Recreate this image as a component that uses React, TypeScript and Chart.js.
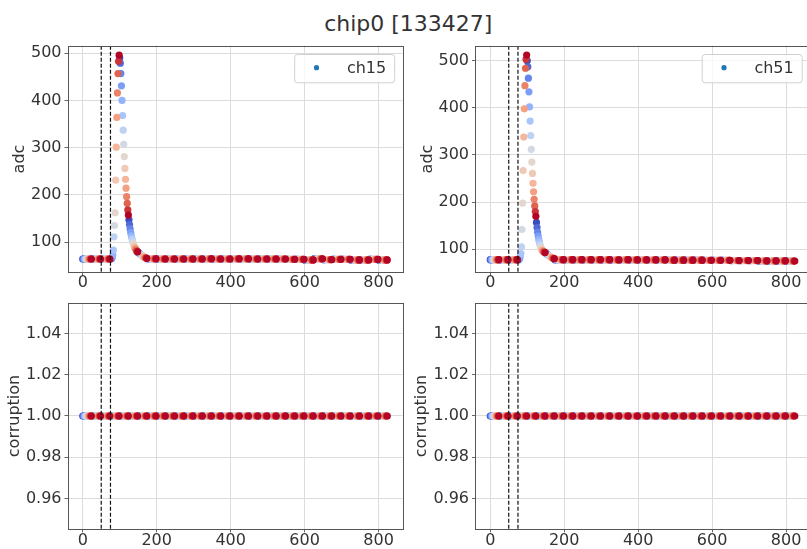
import React, { useEffect, useRef } from "react";
import { Chart, registerables } from "chart.js";

Chart.register(...registerables);

const FONT = "'DejaVu Sans', 'Liberation Sans', sans-serif";
Chart.defaults.font.family = FONT;

// ---------------- data ----------------
const TITLE = "chip0 [133427]";
const CHANNEL_LEFT = "ch15";
const CHANNEL_RIGHT = "ch51";

const BX_PERIOD = 25; // sampling period between bunch crossings
const N_PHASES = 16; // phase scan steps inside one period
const PHASE_STEP = 25 / 16;
const N_BX = 33;

// baseline adc per BX (BX 3..6 are replaced by the pulse tables)
const BASELINE_CH15 = [
  64, 64, 64, 64, 64, 64, 64, 64.5, 64, 64, 64, 64, 64, 64.5, 64, 64, 64.5,
  64.5, 64, 64, 64, 64, 63.5, 63.5, 62, 64.5, 62.5, 63.5, 63.5, 62, 62, 63, 62,
];
const BASELINE_CH51 = [
  78, 78, 78, 78, 78, 78, 78, 78, 78, 78, 78, 78, 78, 77.5, 78, 77.5, 77.5,
  77.5, 77.5, 77, 77, 77, 77, 76.5, 76.5, 76.5, 76, 76, 76, 75.5, 75.5, 75.5, 75,
];

const PULSE_BX = [3, 4, 5, 6];
// adc per phase (0..15) for the pulse BXs
const PULSE_CH15 = [
  [64, 64, 65, 67, 72, 83, 111, 135, 162, 231, 301, 364, 416, 457, 483, 496],
  [490, 479, 457, 431, 400, 368, 337, 307, 281, 256, 233, 214, 196, 182, 168, 157],
  [147, 137, 128, 120, 113, 108, 104, 99, 95, 91, 88, 86, 84, 82, 80, 79],
  [78, 77, 76, 75, 74, 73, 72, 71, 70, 69, 68, 67.5, 67, 66.5, 66, 65.5],
];
const PULSE_CH51 = [
  [78, 78, 79, 81, 86, 91, 105, 142, 198, 267, 338, 398, 447, 484, 503, 512],
  [500, 487, 463, 434, 402, 372, 341, 312, 285, 261, 240, 222, 206, 192, 180, 170],
  [157, 146, 136, 128, 121, 115, 110, 106, 102, 100, 98, 96.5, 95.5, 94.5, 93.5, 93],
  [92, 91, 90, 89, 88, 87, 86, 85, 84, 83.5, 83, 82, 81.5, 81, 80.5, 80],
];

const CORRUPTION_CH15 = [
  1, 1, 1, 1, 1, 1, 1, 1, 1, 1, 1, 1, 1, 1, 1, 1, 1, 1, 1, 1, 1, 1, 1, 1, 1, 1, 1, 1, 1, 1, 1, 1, 1,
];
const CORRUPTION_CH51 = [
  1, 1, 1, 1, 1, 1, 1, 1, 1, 1, 1, 1, 1, 1, 1, 1, 1, 1, 1, 1, 1, 1, 1, 1, 1, 1, 1, 1, 1, 1, 1, 1, 1,
];

const MARKER_LINES = [50, 75];

const X_TICKS = [0, 200, 400, 600, 800];
const ADC_TICKS = [100, 200, 300, 400, 500];
const CORRUPTION_TICKS = [0.96, 0.98, 1.0, 1.02, 1.04];

const X_RANGE = [-41.2, 864.6];
const ADC_RANGE_CH15 = [35.8, 516];
const ADC_RANGE_CH51 = [51.2, 531.8];
const CORRUPTION_RANGE = [0.945, 1.055];

// ---------------- helpers ----------------
const COOLWARM = [
  [59, 76, 192],
  [98, 130, 234],
  [141, 176, 254],
  [184, 208, 249],
  [221, 220, 220],
  [245, 196, 173],
  [244, 154, 123],
  [222, 96, 77],
  [180, 4, 38],
];
function coolwarm(t: number): string {
  const s = Math.min(Math.max(t, 0), 1) * (COOLWARM.length - 1);
  const i = Math.min(Math.floor(s), COOLWARM.length - 2);
  const f = s - i;
  const c = COOLWARM[i].map((v, j) => Math.round(v + (COOLWARM[i + 1][j] - v) * f));
  return `rgb(${c[0]},${c[1]},${c[2]})`;
}

function buildSeries(baseline: number[], pulse: number[][] | null) {
  const pts: { x: number; y: number }[] = [];
  const colors: string[] = [];
  for (let p = 0; p < N_PHASES; p++) {
    for (let k = 0; k < N_BX; k++) {
      const pi = pulse ? PULSE_BX.indexOf(k) : -1;
      const y = pi >= 0 && pulse ? pulse[pi][p] : baseline[k];
      pts.push({ x: k * BX_PERIOD + p * PHASE_STEP, y });
      colors.push(coolwarm(p / (N_PHASES - 1)));
    }
  }
  return { pts, colors };
}

const TEXT_COLOR = "#333333";
const GRID_COLOR = "#dcdcdc";
const SPINE_COLOR = "#555555";

type PanelSpec = {
  left: number;
  top: number;
  width: number;
  height: number;
  padTop: number;
  padRight: number;
  yWidth: number;
  xHeight: number;
  xPad: number;
  yRange: number[];
  yTicks: number[];
  yFmt: (v: number) => string;
  yTitle: string;
  yTitlePad: number;
  baseline: number[];
  pulse: number[][] | null;
  legend?: string;
};

function makeConfig(spec: PanelSpec): any {
  const { pts, colors } = buildSeries(spec.baseline, spec.pulse);
  const decor = {
    id: "decor",
    afterDatasetsDraw(chart: any) {
      const { ctx, chartArea: a, scales } = chart;
      const x = scales.x;
      ctx.save();
      ctx.beginPath();
      ctx.rect(a.left, a.top, a.right - a.left, a.bottom - a.top);
      ctx.clip();
      ctx.setLineDash([4, 2]);
      ctx.strokeStyle = "#111";
      ctx.lineWidth = 1.2;
      MARKER_LINES.forEach((v) => {
        const px = x.getPixelForValue(v);
        ctx.beginPath();
        ctx.moveTo(px, a.top);
        ctx.lineTo(px, a.bottom);
        ctx.stroke();
      });
      ctx.restore();

      ctx.save();
      ctx.strokeStyle = SPINE_COLOR;
      ctx.lineWidth = 1;
      ctx.strokeRect(
        Math.round(a.left) + 0.5,
        Math.round(a.top) + 0.5,
        Math.round(a.right) - Math.round(a.left),
        Math.round(a.bottom) - Math.round(a.top)
      );
      ctx.restore();

      if (spec.legend) {
        const w = 100;
        const h = 28.3;
        const rx = a.right - 8.3 - w;
        const ry = a.top + 8.3;
        ctx.save();
        ctx.beginPath();
        (ctx as any).roundRect(rx + 0.5, ry + 0.5, w, h, 3);
        ctx.fillStyle = "rgba(255,255,255,0.8)";
        ctx.fill();
        ctx.strokeStyle = "#d0d0d0";
        ctx.lineWidth = 1;
        ctx.stroke();
        ctx.beginPath();
        ctx.arc(rx + 22.3, ry + 13.7, 2.6, 0, Math.PI * 2);
        ctx.fillStyle = "#1f77b4";
        ctx.fill();
        ctx.fillStyle = TEXT_COLOR;
        ctx.font = `16px ${FONT}`;
        ctx.textBaseline = "alphabetic";
        ctx.textAlign = "left";
        ctx.fillText(spec.legend, rx + 52.7, ry + 18.6);
        ctx.restore();
      }
    },
  };

  return {
    type: "scatter",
    data: {
      datasets: [
        {
          label: spec.legend || "",
          data: pts,
          pointBackgroundColor: colors,
          pointBorderWidth: 0,
          pointBorderColor: "rgba(0,0,0,0)",
          pointRadius: 3.6,
          pointHoverRadius: 3.6,
          backgroundColor: "#1f77b4",
          borderColor: "rgba(0,0,0,0)",
        },
      ],
    },
    options: {
      responsive: false,
      maintainAspectRatio: false,
      animation: false,
      events: [],
      layout: { padding: { top: spec.padTop, right: spec.padRight, left: 0, bottom: 0 } },
      plugins: {
        legend: { display: false },
        tooltip: { enabled: false },
        title: { display: false },
      },
      scales: {
        x: {
          type: "linear",
          min: X_RANGE[0],
          max: X_RANGE[1],
          afterBuildTicks: (s: any) => {
            s.ticks = X_TICKS.map((v) => ({ value: v }));
          },
          afterFit: (s: any) => {
            s.height = spec.xHeight;
          },
          grid: {
            color: GRID_COLOR,
            tickColor: "#666",
            tickLength: 3,
            drawTicks: true,
            lineWidth: 1,
          },
          border: { display: false },
          ticks: {
            autoSkip: false,
            maxRotation: 0,
            padding: spec.xPad,
            color: TEXT_COLOR,
            font: { family: FONT, size: 16, lineHeight: 1 },
            callback: (v: any) => String(v),
          },
        },
        y: {
          type: "linear",
          min: spec.yRange[0],
          max: spec.yRange[1],
          afterBuildTicks: (s: any) => {
            s.ticks = spec.yTicks.map((v) => ({ value: v }));
          },
          afterFit: (s: any) => {
            s.width = spec.yWidth;
          },
          grid: {
            color: GRID_COLOR,
            tickColor: "#666",
            tickLength: 3,
            drawTicks: true,
            lineWidth: 1,
          },
          border: { display: false },
          ticks: {
            autoSkip: false,
            padding: 3,
            color: TEXT_COLOR,
            font: { family: FONT, size: 16, lineHeight: 1 },
            callback: (v: any) => spec.yFmt(Number(v)),
          },
          title: {
            display: true,
            text: spec.yTitle,
            color: TEXT_COLOR,
            font: { family: FONT, size: 16, lineHeight: 1.2 },
            padding: { top: spec.yTitlePad, bottom: 0 },
          },
        },
      },
    },
    plugins: [decor],
  };
}

function Panel({ spec }: { spec: PanelSpec }) {
  const ref = useRef<HTMLCanvasElement | null>(null);
  useEffect(() => {
    if (!ref.current) return;
    const chart = new Chart(ref.current, makeConfig(spec));
    return () => chart.destroy();
  }, []);
  return (
    <canvas
      ref={ref}
      width={spec.width}
      height={spec.height}
      style={{
        position: "absolute",
        left: spec.left,
        top: spec.top,
        width: spec.width,
        height: spec.height,
      }}
    />
  );
}

const adcFmt = (v: number) => String(Math.round(v));
const corrFmt = (v: number) => v.toFixed(2);

const PANELS: PanelSpec[] = [
  {
    left: 0, top: 0, width: 410, height: 300,
    padTop: 45.7, padRight: 7.5, yWidth: 67.5, xHeight: 27.7, xPad: -0.5,
    yRange: ADC_RANGE_CH15, yTicks: ADC_TICKS, yFmt: adcFmt,
    yTitle: "adc", yTitlePad: 10.4,
    baseline: BASELINE_CH15, pulse: PULSE_CH15, legend: CHANNEL_LEFT,
  },
  {
    left: 408, top: 0, width: 410, height: 300,
    padTop: 45.7, padRight: 8, yWidth: 67, xHeight: 27.7, xPad: -0.5,
    yRange: ADC_RANGE_CH51, yTicks: ADC_TICKS, yFmt: adcFmt,
    yTitle: "adc", yTitlePad: 10.4,
    baseline: BASELINE_CH51, pulse: PULSE_CH51, legend: CHANNEL_RIGHT,
  },
  {
    left: 0, top: 290, width: 410, height: 259,
    padTop: 12.7, padRight: 7.5, yWidth: 67.5, xHeight: 19.7, xPad: 0.5,
    yRange: CORRUPTION_RANGE, yTicks: CORRUPTION_TICKS, yFmt: corrFmt,
    yTitle: "corruption", yTitlePad: 4.9,
    baseline: CORRUPTION_CH15, pulse: null,
  },
  {
    left: 408, top: 290, width: 410, height: 259,
    padTop: 12.7, padRight: 8, yWidth: 67, xHeight: 19.7, xPad: 0.5,
    yRange: CORRUPTION_RANGE, yTicks: CORRUPTION_TICKS, yFmt: corrFmt,
    yTitle: "corruption", yTitlePad: 4.4,
    baseline: CORRUPTION_CH51, pulse: null,
  },
];

export default function App() {
  return (
    <div
      style={{
        position: "fixed",
        left: 0,
        top: 0,
        width: 807,
        height: 549,
        overflow: "hidden",
        background: "#ffffff",
      }}
    >
      <div
        style={{
          position: "absolute",
          left: 0,
          top: 13,
          width: 816.6,
          textAlign: "center",
          fontFamily: FONT,
          fontSize: 22,
          lineHeight: "22px",
          color: TEXT_COLOR,
          whiteSpace: "nowrap",
        }}
      >
        {TITLE}
      </div>
      {PANELS.map((p, i) => (
        <Panel key={i} spec={p} />
      ))}
    </div>
  );
}
